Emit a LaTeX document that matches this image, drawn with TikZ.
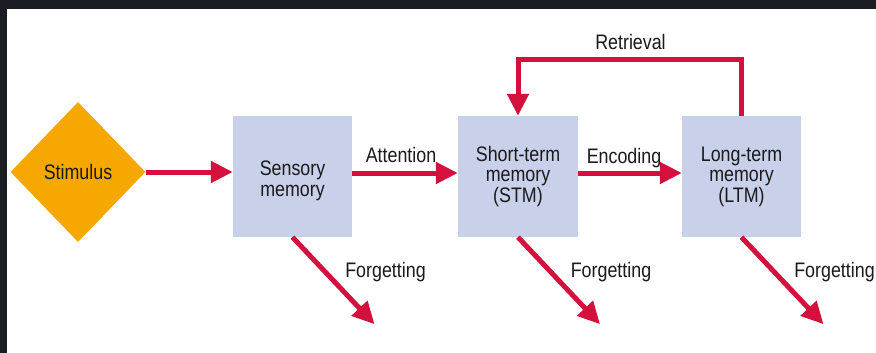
\documentclass[tikz,border=0pt]{standalone}
\usepackage{fontspec}
\setmainfont{Liberation Sans}[FakeStretch=0.85]
\usetikzlibrary{arrows.meta,shapes.geometric,calc}
\definecolor{arrowred}{HTML}{D3113C}
\definecolor{boxblue}{HTML}{C9D0EA}
\definecolor{stimorange}{HTML}{F7A800}
\definecolor{darkbg}{HTML}{1B1D25}
\definecolor{txt}{HTML}{1A1A1A}
\tikzset{
  lbl/.style={font=\fontsize{21}{20.5}\selectfont, text=txt, inner sep=0pt, align=center},
  membox/.style={lbl, fill=boxblue, minimum width=119pt, minimum height=121pt},
  arr/.style={draw=arrowred, line width=5pt, -{Triangle[length=22pt,width=21pt]}},
}
\begin{document}
\begin{tikzpicture}[x=1pt,y=-1pt]
\fill[darkbg] (0,0) rectangle (876,353);
\fill[white] (7,9) rectangle (876,353);
\useasboundingbox (0,0) rectangle (876,353);
\node[lbl, diamond, fill=stimorange, minimum width=135pt, minimum height=140pt, aspect=1] (stim) at (78,172) {Stimulus};
\node[membox] (sens) at (292.5,176.5) {};
\node[lbl] (senst) at (292.5,181) {Sensory\\memory};
\node[membox, minimum width=120pt] (stm) at (518,176.5) {Short-term\\memory\\(STM)};
\node[membox] (ltm) at (741.5,176.5) {Long-term\\memory\\(LTM)};
\coordinate (row) at (0,173);
\draw[arr] (stim.east) -- (stim.east -| sens.west);
\draw[arr] (sens.east |- row) -- node[lbl, above=8pt, xshift=-4pt] (att) {Attention} (stm.west |- row);
\draw[arr] (stm.east |- row) -- node[lbl, above=3pt, xshift=-6pt] (enc) {Encoding} (ltm.west |- row);
\draw[arr] (ltm.north) -- ++(0,-56) coordinate (rtop) -| (stm.north);
\node[lbl] (ret) at ($(rtop)+(-111,-18)$) {Retrieval};
\foreach \b/\i in {sens/1, stm/2, ltm/3}{
  \coordinate (f\i) at ($(\b.south)+(82,87)$);
  \draw[arr] (\b.south) -- (f\i);
  \node[lbl] (fl\i) at ($(\b.south)+(93,35)$) {Forgetting};
}
\end{tikzpicture}
\end{document}
